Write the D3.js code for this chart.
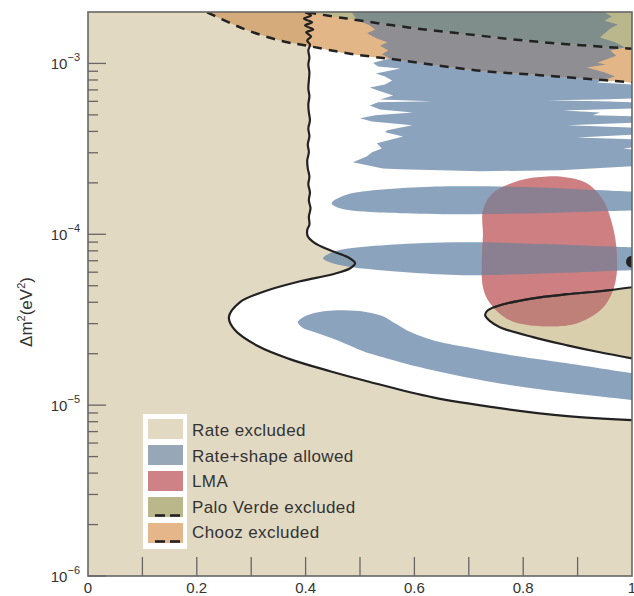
<!DOCTYPE html>
<html>
<head>
<meta charset="utf-8">
<script src="https://cdn.jsdelivr.net/npm/d3@7"></script>
<style>
    html, body { margin: 0; padding: 0; background: #fff; }
    #chart-area { width: 634px; height: 596px; }
    text { font-family: "Liberation Sans", Arial, sans-serif; fill: #333; }
</style>
</head>
<body>
<div id="chart-area"></div>
<script>
// [sin^2 2θ, Δm^2 (eV^2)]
let rateBoundary = [
    [0.399, 1.99e-3], [0.410, 1.91e-3], [0.397, 1.83e-3], [0.412, 1.74e-3], [0.399, 1.67e-3], [0.414, 1.58e-3],
    [0.401, 1.52e-3], [0.410, 1.44e-3], [0.403, 1.36e-3], [0.408, 1.29e-3], [0.405, 1.19e-3], [0.407, 1.08e-3],
    [0.405, 9.87e-4], [0.407, 8.86e-4], [0.406, 7.95e-4], [0.405, 7.14e-4], [0.407, 6.41e-4], [0.405, 5.76e-4],
    [0.406, 5.17e-4], [0.408, 4.64e-4], [0.405, 4.17e-4], [0.407, 3.74e-4], [0.404, 3.36e-4], [0.406, 3.02e-4],
    [0.403, 2.71e-4], [0.404, 2.43e-4], [0.407, 2.18e-4], [0.405, 1.96e-4], [0.408, 1.76e-4], [0.406, 1.58e-4],
    [0.409, 1.42e-4], [0.406, 1.27e-4], [0.407, 1.14e-4], [0.403, 1.06e-4], [0.404, 9.73e-5], [0.415, 8.98e-5],
    [0.445, 8.06e-5], [0.478, 7.34e-5], [0.491, 6.77e-5], [0.482, 6.33e-5], [0.450, 5.84e-5], [0.390, 5.31e-5],
    [0.325, 4.64e-5], [0.279, 4.00e-5], [0.259, 3.27e-5], [0.270, 2.75e-5], [0.313, 2.21e-5], [0.371, 1.86e-5],
    [0.445, 1.58e-5], [0.513, 1.38e-5], [0.634, 1.11e-5], [0.757, 9.60e-6], [0.881, 8.62e-6], [1.0, 8.17e-6]
];

let innerExcluded = [
    [1.0, 4.90e-5], [0.941, 4.64e-5], [0.881, 4.46e-5], [0.818, 4.22e-5], [0.757, 3.84e-5], [0.735, 3.59e-5],
    [0.730, 3.36e-5], [0.739, 3.10e-5], [0.757, 2.86e-5], [0.818, 2.50e-5], [0.881, 2.24e-5], [0.941, 2.04e-5],
    [1.0, 1.88e-5]
];

let choozLine = [
    [0.219, 1.99e-3], [0.285, 1.60e-3], [0.353, 1.36e-3], [0.408, 1.26e-3], [0.482, 1.14e-3],
    [0.579, 1.04e-3], [0.715, 9.10e-4], [0.836, 8.51e-4], [1.0, 7.74e-4]
];

let paloVerdeLine = [
    [0.403, 1.99e-3], [0.476, 1.83e-3], [0.592, 1.62e-3], [0.715, 1.46e-3], [0.836, 1.33e-3], [1.0, 1.22e-3]
];

let lmaRegion = [
    [0.844, 2.18e-4], [0.881, 2.15e-4], [0.917, 1.99e-4], [0.947, 1.58e-4], [0.965, 1.10e-4], [0.972, 7.74e-5],
    [0.969, 5.17e-5], [0.947, 3.74e-5], [0.899, 3.02e-5], [0.836, 2.90e-5], [0.776, 3.14e-5], [0.739, 3.95e-5],
    [0.726, 4.90e-5], [0.724, 7.05e-5], [0.726, 9.87e-5], [0.726, 1.38e-4], [0.744, 1.74e-4], [0.794, 2.07e-4]
];

let shapeTop = [
    [0.482, 2.2e-3], [0.949, 2.2e-3], [0.949, 1.99e-3], [0.963, 1.88e-3], [0.949, 1.78e-3], [0.974, 1.69e-3],
    [0.960, 1.60e-3], [0.941, 1.42e-3], [0.969, 1.33e-3], [0.987, 1.24e-3], [0.960, 1.19e-3], [0.971, 1.11e-3],
    [0.936, 1.01e-3], [0.952, 9.87e-4], [0.917, 9.48e-4], [0.950, 8.86e-4], [0.969, 8.39e-4], [0.950, 8.06e-4],
    [0.936, 7.74e-4], [1.0, 7.54e-4], [1.015, 7.54e-4], [1.015, 6.24e-4], [0.941, 6.16e-4], [0.844, 6.08e-4],
    [0.941, 6.00e-4], [1.015, 5.92e-4], [1.015, 5.46e-4], [0.873, 5.31e-4], [0.941, 5.17e-4], [0.928, 4.97e-4],
    [1.015, 4.90e-4], [1.015, 4.52e-4], [0.881, 4.34e-4], [0.996, 4.22e-4], [1.015, 4.17e-4], [1.015, 3.84e-4],
    [0.899, 3.69e-4], [1.015, 3.59e-4], [1.015, 3.27e-4], [0.984, 3.18e-4], [1.015, 3.10e-4], [1.015, 2.50e-4],
    [1.0, 2.50e-4], [0.868, 2.37e-4], [0.721, 2.34e-4], [0.574, 2.40e-4], [0.542, 2.43e-4], [0.487, 2.64e-4],
    [0.513, 2.86e-4], [0.522, 3.02e-4], [0.540, 3.18e-4], [0.531, 3.41e-4], [0.579, 3.74e-4], [0.546, 3.95e-4],
    [0.550, 4.06e-4], [0.596, 4.34e-4], [0.522, 4.58e-4], [0.500, 4.77e-4], [0.528, 4.97e-4], [0.597, 5.17e-4],
    [0.537, 5.38e-4], [0.518, 5.68e-4], [0.533, 5.92e-4], [0.632, 6.00e-4], [0.537, 6.16e-4], [0.561, 6.50e-4],
    [0.533, 6.95e-4], [0.518, 7.24e-4], [0.546, 7.54e-4], [0.559, 7.95e-4], [0.546, 8.39e-4], [0.529, 8.74e-4],
    [0.574, 9.35e-4], [0.533, 9.60e-4], [0.524, 1.01e-3], [0.555, 1.07e-3], [0.540, 1.13e-3], [0.552, 1.19e-3],
    [0.537, 1.27e-3], [0.550, 1.33e-3], [0.531, 1.40e-3], [0.513, 1.50e-3], [0.528, 1.58e-3], [0.515, 1.69e-3],
    [0.496, 1.78e-3], [0.485, 1.99e-3]
];

let shapeBand2 = [
    [0.448, 1.52e-4], [0.472, 1.69e-4], [0.504, 1.78e-4], [0.597, 1.88e-4], [0.684, 1.91e-4], [0.831, 1.88e-4],
    [1.0, 1.78e-4], [1.03, 1.78e-4], [1.03, 1.38e-4], [1.0, 1.38e-4], [0.831, 1.33e-4], [0.684, 1.31e-4],
    [0.574, 1.33e-4], [0.537, 1.34e-4], [0.463, 1.42e-4]
];

let shapeBand3 = [
    [0.432, 7.24e-5], [0.454, 7.95e-5], [0.482, 8.28e-5], [0.518, 8.51e-5], [0.610, 8.86e-5], [0.702, 8.98e-5],
    [0.849, 8.74e-5], [1.0, 8.39e-5], [1.03, 8.39e-5], [1.03, 6.16e-5], [1.0, 6.16e-5], [0.849, 5.92e-5],
    [0.702, 5.76e-5], [0.610, 5.92e-5], [0.537, 6.16e-5], [0.487, 6.41e-5], [0.450, 6.77e-5]
];

let shapeBand4 = [
    [0.386, 3.06e-5], [0.399, 3.31e-5], [0.423, 3.50e-5], [0.469, 3.59e-5], [0.513, 3.50e-5], [0.542, 3.31e-5],
    [0.561, 3.06e-5], [0.597, 2.64e-5], [0.634, 2.40e-5], [0.697, 2.18e-5], [0.757, 2.01e-5], [0.881, 1.76e-5],
    [1.0, 1.54e-5], [1.03, 1.50e-5], [1.03, 1.04e-5], [1.0, 1.07e-5], [0.881, 1.18e-5], [0.757, 1.34e-5],
    [0.634, 1.60e-5], [0.542, 1.91e-5], [0.506, 2.07e-5], [0.458, 2.40e-5], [0.417, 2.67e-5], [0.393, 2.86e-5]
];

let bestFit = [1.0, 6.9e-5];

let xTickValues = [0, 0.2, 0.4, 0.6, 0.8, 1];
let xTickLabels = ["0", "0.2", "0.4", "0.6", "0.8", "1"];
let xTickMarks = [0.1, 0.2, 0.3, 0.4, 0.5, 0.6, 0.7, 0.8, 0.9];
let yDecades = [1e-6, 1e-5, 1e-4, 1e-3];
let yExponents = ["−6", "−5", "−4", "−3"];

let legendLabels = ["Rate excluded", "Rate+shape allowed", "LMA", "Palo Verde excluded", "Chooz excluded"];

class ExclusionPlot {
    constructor(parentElement) {
        this.parentElement = parentElement;
        this.initVis();
    }

    initVis() {
        let vis = this;

        vis.margin = { top: 12, right: 2, bottom: 20, left: 88 };
        vis.width = 634 - vis.margin.left - vis.margin.right;
        vis.height = 596 - vis.margin.top - vis.margin.bottom;

        vis.colors = {
            excluded: "#e2d9c3",
            innerExcluded: "#d9cfad",
            shape: "#6e8cab",
            choozAllowed: "#e3b687",
            choozExcluded: "#d5ab7b",
            choozShape: "#8f8e93",
            pv: "#bab78c",
            pvShape: "#7f8d8b",
            lma: "#ce7f81",
            lmaShape: "#8a8091",
            lmaExcluded: "#bf8079",
            line: "#222",
            axis: "#666"
        };

        vis.svg = d3.select("#" + vis.parentElement)
            .append("svg")
            .attr("width", 634)
            .attr("height", 596)
            .append("g")
            .attr("transform", `translate (${vis.margin.left}, ${vis.margin.top})`);

        vis.x = d3.scaleLinear().domain([0, 1]).range([0, vis.width]);
        vis.y = d3.scaleLog().domain([1e-6, 2e-3]).range([vis.height, 0]);

        vis.smooth = d3.line().x(d => vis.x(d[0])).y(d => vis.y(d[1])).curve(d3.curveCatmullRom.alpha(0.5));
        vis.closedSmooth = d3.line().x(d => vis.x(d[0])).y(d => vis.y(d[1])).curve(d3.curveCatmullRomClosed.alpha(0.5));
        vis.jagged = d3.line().x(d => vis.x(d[0])).y(d => vis.y(d[1])).curve(d3.curveLinearClosed);
        vis.withCorners = (points, corners) => vis.smooth(points)
            + corners.map(c => `L${vis.x(c[0])},${vis.y(c[1])}`).join("") + "Z";

        vis.allowedPath = vis.withCorners(rateBoundary, [[1.05, 8e-6], [1.05, 3e-3], [0.399, 3e-3]]);
        vis.innerPath = vis.smooth(innerExcluded) + "Z";
        vis.choozPath = vis.withCorners(choozLine, [[1.05, 7.74e-4], [1.05, 3e-3], [0.219, 3e-3]]);
        vis.pvPath = vis.withCorners(paloVerdeLine, [[1.05, 1.22e-3], [1.05, 3e-3], [0.403, 3e-3]]);
        vis.lmaPath = vis.closedSmooth(lmaRegion);
        vis.topPath = vis.jagged(shapeTop);
        vis.bandPaths = [shapeBand2, shapeBand3, shapeBand4].map(b => vis.closedSmooth(b));

        let defs = vis.svg.append("defs");
        defs.append("clipPath").attr("id", "plot-clip")
            .append("rect").attr("width", vis.width).attr("height", vis.height);
        defs.append("clipPath").attr("id", "chooz-clip").append("path").attr("d", vis.choozPath);
        defs.append("clipPath").attr("id", "pv-clip").append("path").attr("d", vis.pvPath);
        defs.append("clipPath").attr("id", "lma-clip").append("path").attr("d", vis.lmaPath);

        vis.drawRegions();
        vis.drawAxes();
        vis.drawLegend();
    }

    drawRegions() {
        let vis = this;
        let plot = vis.svg.append("g").attr("clip-path", "url(#plot-clip)");

        plot.append("rect").attr("width", vis.width).attr("height", vis.height).attr("fill", vis.colors.excluded);
        plot.append("path").attr("d", vis.allowedPath).attr("fill", "#fff");
        plot.append("path").attr("d", vis.innerPath).attr("fill", vis.colors.innerExcluded);

        plot.selectAll("path.shape")
            .data([vis.topPath, ...vis.bandPaths])
            .enter()
            .append("path")
            .attr("class", "shape")
            .attr("d", d => d)
            .attr("fill", vis.colors.shape)
            .attr("fill-opacity", 0.8);

        // Chooz area, tinted by what lies below it
        let chooz = plot.append("g").attr("clip-path", "url(#chooz-clip)");
        chooz.append("rect").attr("width", vis.width).attr("height", vis.height).attr("fill", vis.colors.choozExcluded);
        chooz.append("path").attr("d", vis.allowedPath).attr("fill", vis.colors.choozAllowed);
        chooz.append("path").attr("d", vis.topPath).attr("fill", vis.colors.choozShape);

        let pv = plot.append("g").attr("clip-path", "url(#pv-clip)");
        pv.append("rect").attr("width", vis.width).attr("height", vis.height).attr("fill", vis.colors.pv);
        pv.append("path").attr("d", vis.topPath).attr("fill", vis.colors.pvShape);

        plot.append("path").attr("d", vis.lmaPath).attr("fill", vis.colors.lma);
        let lma = plot.append("g").attr("clip-path", "url(#lma-clip)");
        lma.selectAll("path.overlap")
            .data(vis.bandPaths)
            .enter()
            .append("path")
            .attr("class", "overlap")
            .attr("d", d => d)
            .attr("fill", vis.colors.lmaShape);
        lma.append("path").attr("d", vis.innerPath).attr("fill", vis.colors.lmaExcluded);

        plot.append("path")
            .attr("d", vis.smooth(rateBoundary))
            .attr("fill", "none")
            .attr("stroke", vis.colors.line)
            .attr("stroke-width", 2.2);
        plot.append("path")
            .attr("d", vis.smooth(innerExcluded))
            .attr("fill", "none")
            .attr("stroke", vis.colors.line)
            .attr("stroke-width", 2.2);
        lma.append("path")
            .attr("d", vis.smooth(innerExcluded))
            .attr("fill", "none")
            .attr("stroke", "#55403f")
            .attr("stroke-width", 2.2);

        plot.selectAll("path.dashed")
            .data([choozLine, paloVerdeLine])
            .enter()
            .append("path")
            .attr("class", "dashed")
            .attr("d", d => vis.smooth(d))
            .attr("fill", "none")
            .attr("stroke", vis.colors.line)
            .attr("stroke-width", 2.5)
            .attr("stroke-dasharray", "9,7");

        plot.append("circle")
            .attr("cx", vis.x(bestFit[0]))
            .attr("cy", vis.y(bestFit[1]))
            .attr("r", 6)
            .attr("fill", vis.colors.line);
    }

    drawAxes() {
        let vis = this;

        vis.svg.append("rect")
            .attr("width", vis.width)
            .attr("height", vis.height)
            .attr("fill", "none")
            .attr("stroke", vis.colors.axis)
            .attr("stroke-width", 1.6);

        vis.svg.selectAll("line.x-tick")
            .data(xTickMarks)
            .enter()
            .append("line")
            .attr("class", "x-tick")
            .attr("x1", d => vis.x(d))
            .attr("x2", d => vis.x(d))
            .attr("y1", vis.height)
            .attr("y2", vis.height - 19)
            .attr("stroke", vis.colors.axis)
            .attr("stroke-width", 1.3);

        vis.svg.selectAll("text.x-label")
            .data(xTickValues)
            .enter()
            .append("text")
            .attr("class", "x-label")
            .attr("x", d => vis.x(d))
            .attr("y", vis.height + 17)
            .attr("text-anchor", "middle")
            .attr("font-size", 15)
            .text((d, i) => xTickLabels[i]);

        let minor = vis.y.ticks().filter(d => !yDecades.includes(d) && d < 1.99e-3);
        vis.svg.selectAll("line.y-minor")
            .data(minor)
            .enter()
            .append("line")
            .attr("class", "y-minor")
            .attr("x1", 0)
            .attr("x2", 10)
            .attr("y1", d => vis.y(d))
            .attr("y2", d => vis.y(d))
            .attr("stroke", vis.colors.axis)
            .attr("stroke-width", 1.3);

        vis.svg.selectAll("line.y-major")
            .data(yDecades)
            .enter()
            .append("line")
            .attr("class", "y-major")
            .attr("x1", 0)
            .attr("x2", 18)
            .attr("y1", d => vis.y(d))
            .attr("y2", d => vis.y(d))
            .attr("stroke", vis.colors.axis)
            .attr("stroke-width", 1.3);

        let yLabels = vis.svg.selectAll("text.y-label")
            .data(yDecades)
            .enter()
            .append("text")
            .attr("class", "y-label")
            .attr("x", -8)
            .attr("y", d => vis.y(d) + 6)
            .attr("text-anchor", "end")
            .attr("font-size", 15);
        yLabels.append("tspan").text("10");
        yLabels.append("tspan")
            .attr("dy", -8)
            .attr("font-size", 11)
            .text((d, i) => yExponents[i]);

        let title = vis.svg.append("text")
            .attr("transform", `translate(${-56}, ${vis.height / 2 + 18}) rotate(-90)`)
            .attr("text-anchor", "middle")
            .attr("font-size", 17);
        title.append("tspan").text("Δm");
        title.append("tspan").attr("dy", -7).attr("font-size", 11).text("2");
        title.append("tspan").attr("dy", 7).text("(eV");
        title.append("tspan").attr("dy", -7).attr("font-size", 11).text("2");
        title.append("tspan").attr("dy", 7).text(")");
    }

    drawLegend() {
        let vis = this;
        let swatchColors = ["#e2d9c3", "#97a7b7", "#cf8286", "#bab78b", "#e4b689"];
        let dashed = [false, false, false, true, true];

        let legend = vis.svg.append("g")
            .attr("transform", `translate(${143 - vis.margin.left}, ${414 - vis.margin.top})`);

        legend.append("rect")
            .attr("width", 44)
            .attr("height", 135)
            .attr("fill", "#fff");

        legend.selectAll("rect.swatch")
            .data(legendLabels)
            .enter()
            .append("rect")
            .attr("class", "swatch")
            .attr("x", 5)
            .attr("y", (d, i) => 5 + i * 26)
            .attr("width", 35)
            .attr("height", 20)
            .attr("fill", (d, i) => swatchColors[i]);

        legendLabels.forEach((label, i) => {
            if (!dashed[i]) return;
            [[12, 22], [27, 37]].forEach(seg => {
                legend.append("line")
                    .attr("x1", seg[0])
                    .attr("x2", seg[1])
                    .attr("y1", 5 + i * 26 + 18.5)
                    .attr("y2", 5 + i * 26 + 18.5)
                    .attr("stroke", vis.colors.line)
                    .attr("stroke-width", 2.6);
            });
        });

        legend.selectAll("text.legend-label")
            .data(legendLabels)
            .enter()
            .append("text")
            .attr("class", "legend-label")
            .attr("x", 49)
            .attr("y", (d, i) => 22 + i * 25.6)
            .attr("font-size", 17)
            .attr("letter-spacing", 0.4)
            .text(d => d);
    }
}

new ExclusionPlot("chart-area");
</script>
</body>
</html>
